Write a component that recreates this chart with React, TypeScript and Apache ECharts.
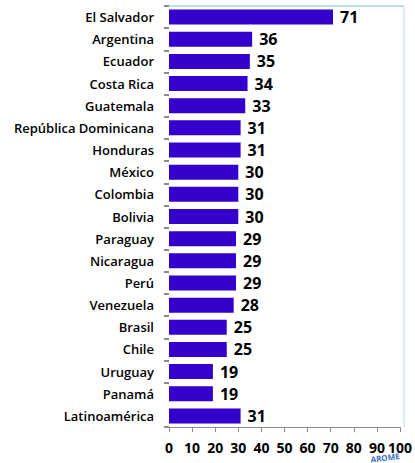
import React, { useEffect, useRef } from "react";
import * as echarts from "echarts";

const countries = [
  "El Salvador", "Argentina", "Ecuador", "Costa Rica", "Guatemala",
  "República Dominicana", "Honduras", "México", "Colombia", "Bolivia",
  "Paraguay", "Nicaragua", "Perú", "Venezuela", "Brasil", "Chile",
  "Uruguay", "Panamá", "Latinoamérica",
];
const values = [71, 36, 35, 34, 33, 31, 31, 30, 30, 30, 29, 29, 29, 28, 25, 25, 19, 19, 31];
const xTicks = { min: 0, max: 100, interval: 10 };

export default function App() {
  const ref = useRef<HTMLDivElement>(null);
  useEffect(() => {
    if (!ref.current) return;
    const chart = echarts.init(ref.current, undefined, { renderer: "svg" });
    const font = "'Open Sans', 'Noto Sans', sans-serif";
    chart.setOption({
      animation: false,
      backgroundColor: "#ffffff",
      grid: { left: 169, right: 11, top: 6, bottom: 36, containLabel: false },
      xAxis: {
        type: "value",
        min: xTicks.min,
        max: xTicks.max,
        interval: xTicks.interval,
        splitLine: { show: false },
        axisLine: { show: true, lineStyle: { color: "#8a8a8a", width: 1 } },
        axisTick: { show: true, length: 5, lineStyle: { color: "#8a8a8a" } },
        axisLabel: {
          color: "#000",
          fontFamily: font,
          fontSize: 14,
          fontWeight: "bold",
          margin: 13,
        },
      },
      yAxis: {
        type: "category",
        inverse: true,
        data: countries,
        axisLine: { show: false },
        axisTick: {
          show: true,
          length: 5,
          interval: (i: number) => i !== countries.length - 1,
          lineStyle: { color: "#8a8a8a", width: 2 },
        },
        axisLabel: {
          color: "#000",
          fontFamily: font,
          fontSize: 13,
          fontWeight: 600,
          margin: 15,
        },
      },
      series: [
        {
          type: "bar",
          data: values,
          barWidth: 15,
          itemStyle: { color: "#3300CC" },
          label: {
            show: true,
            position: "right",
            distance: 7,
            color: "#000",
            fontFamily: font,
            fontSize: 16,
            fontWeight: "bold",
          },
        },
      ],
      graphic: [
        {
          type: "line",
          shape: { x1: 168, y1: 6, x2: 404, y2: 6 },
          style: { stroke: "#b7e0e8", lineWidth: 2 },
        },
        {
          type: "line",
          shape: { x1: 404, y1: 6, x2: 404, y2: 427 },
          style: { stroke: "#b7e0e8", lineWidth: 1 },
        },
        {
          type: "text",
          x: 370,
          y: 455,
          rotation: 0.12,
          style: {
            text: "AROME",
            fill: "#3a6fc4",
            font: "bold 8px 'Open Sans', sans-serif",
          },
        },
      ],
    });
    return () => chart.dispose();
  }, []);
  return (
    <div
      ref={ref}
      style={{ position: "fixed", left: 0, top: 0, width: 415, height: 463 }}
    />
  );
}
